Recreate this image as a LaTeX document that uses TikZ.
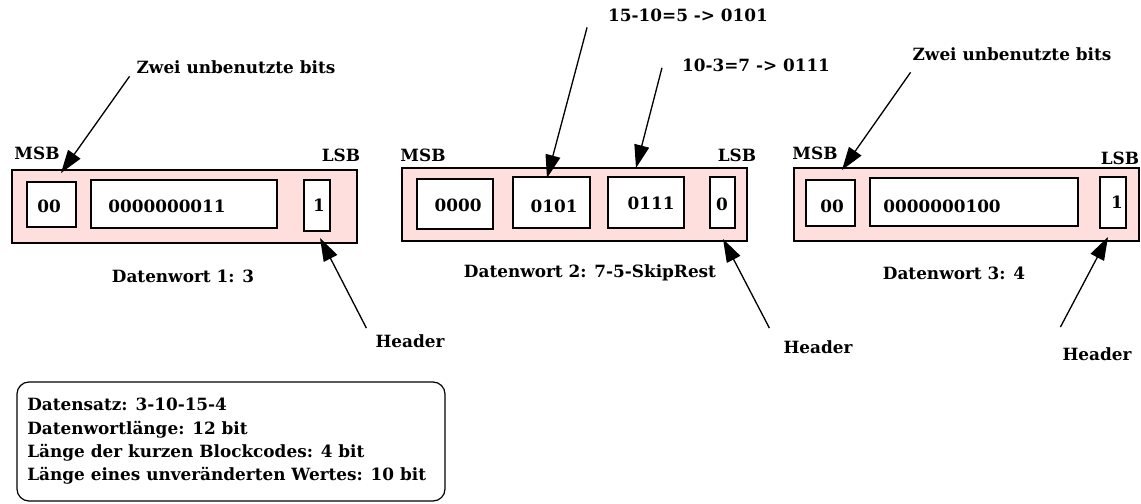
\documentclass[tikz,border=0pt]{standalone}
\usepackage{fontspec}
\setmainfont{DejaVu Serif}
\usetikzlibrary{arrows.meta}
\definecolor{wortrosa}{RGB}{255,222,222}
\tikzset{
  wort/.style={draw,line width=0.8pt,fill=wortrosa},
  bits/.style={draw,line width=0.9pt,fill=white},
  txt/.style={anchor=base,inner sep=1pt},
  pfeil/.style={line width=0.75pt,-{Triangle[length=0.46cm,width=0.3cm]}}
}
\begin{document}
\begin{tikzpicture}[x=0.02cm,y=-0.02cm,font=\bfseries\fontsize{9.6}{13.2}\selectfont]
\useasboundingbox (0,0) rectangle (1141,503);

\draw[wort] (12,170) rectangle (357,243);
\draw[bits] (27,182) rectangle (76,227);
\draw[bits] (91,180) rectangle (277,228);
\draw[bits] (304,180) rectangle (330,231);
\node[txt] (frei1) at (49,212) {00};
\node[txt] (wert1) at (167,213) {0000000011};
\node[txt] (hbit1) at (319,211) {1};
\node[txt] (msb1) at (37,160) {MSB};
\node[txt] (lsb1) at (341,162) {LSB};
\node[txt] (zwei1) at (236,74) {Zwei unbenutzte bits};
\node[txt] (dw1) at (183,282) {Datenwort 1: 3};
\node[txt] (head1) at (410,347) {Header};
\coordinate (z1) at (61,173);
\coordinate (h1) at (320,238);
\draw[pfeil] ([shift={(-5,0)}]zwei1.south west) -- (z1);
\draw[pfeil] ([shift={(-7,-4)}]head1.north west) -- (h1);

\draw[wort] (402,168) rectangle (747,241);
\draw[bits] (417,179) rectangle (493,229);
\draw[bits] (513,177) rectangle (590,228);
\draw[bits] (608,177) rectangle (684,228);
\draw[bits] (710,177) rectangle (735,228);
\node[txt] (frei2) at (458,211) {0000};
\node[txt] (code2a) at (554,212) {0101};
\node[txt] (code2b) at (651,209) {0111};
\node[txt] (hbit2) at (722,210) {0};
\node[txt] (msb2) at (423,162) {MSB};
\node[txt] (lsb2) at (737,162) {LSB};
\node[txt] (rech1) at (688,22) {15-10=5 -> 0101};
\node[txt] (rech2) at (756,72) {10-3=7 -> 0111};
\node[txt] (dw2) at (590,277) {Datenwort 2: 7-5-SkipRest};
\node[txt] (head2) at (818,353) {Header};
\coordinate (c2a) at (547,178);
\coordinate (c2b) at (636,168);
\coordinate (h2) at (723,239);
\draw[pfeil] ([shift={(-19,3)}]rech1.south west) -- (c2a);
\draw[pfeil] ([shift={(-18,2)}]rech2.west) -- (c2b);
\draw[pfeil] ([shift={(-12,-10)}]head2.north west) -- (h2);

\draw[wort] (794,168) rectangle (1139,241);
\draw[bits] (806,180) rectangle (855,226);
\draw[bits] (870,178) rectangle (1078,226);
\draw[bits] (1100,177) rectangle (1126,228);
\node[txt] (frei3) at (832,213) {00};
\node[txt] (wert3) at (942,213) {0000000100};
\node[txt] (hbit3) at (1117,208) {1};
\node[txt] (msb3) at (815,159) {MSB};
\node[txt] (lsb3) at (1120,165) {LSB};
\node[txt] (zwei3) at (1012,61) {Zwei unbenutzte bits};
\node[txt] (dw3) at (954,279) {Datenwort 3: 4};
\node[txt] (head3) at (1097,360) {Header};
\coordinate (z3) at (842,170);
\coordinate (h3) at (1108,237);
\draw[pfeil] ([shift={(0,9)}]zwei3.south west) -- (z3);
\draw[pfeil] ([shift={(0,-18)}]head3.north west) -- (h3);

\draw[line width=0.7pt,rounded corners=0.24cm] (17,382) rectangle (445,501);
\node[anchor=north west,inner sep=0pt,align=left] (info) at (27,398) {Datensatz: 3-10-15-4\\Datenwortlänge: 12 bit\\Länge der kurzen Blockcodes: 4 bit\\Länge eines unveränderten Wertes: 10 bit};
\end{tikzpicture}
\end{document}
